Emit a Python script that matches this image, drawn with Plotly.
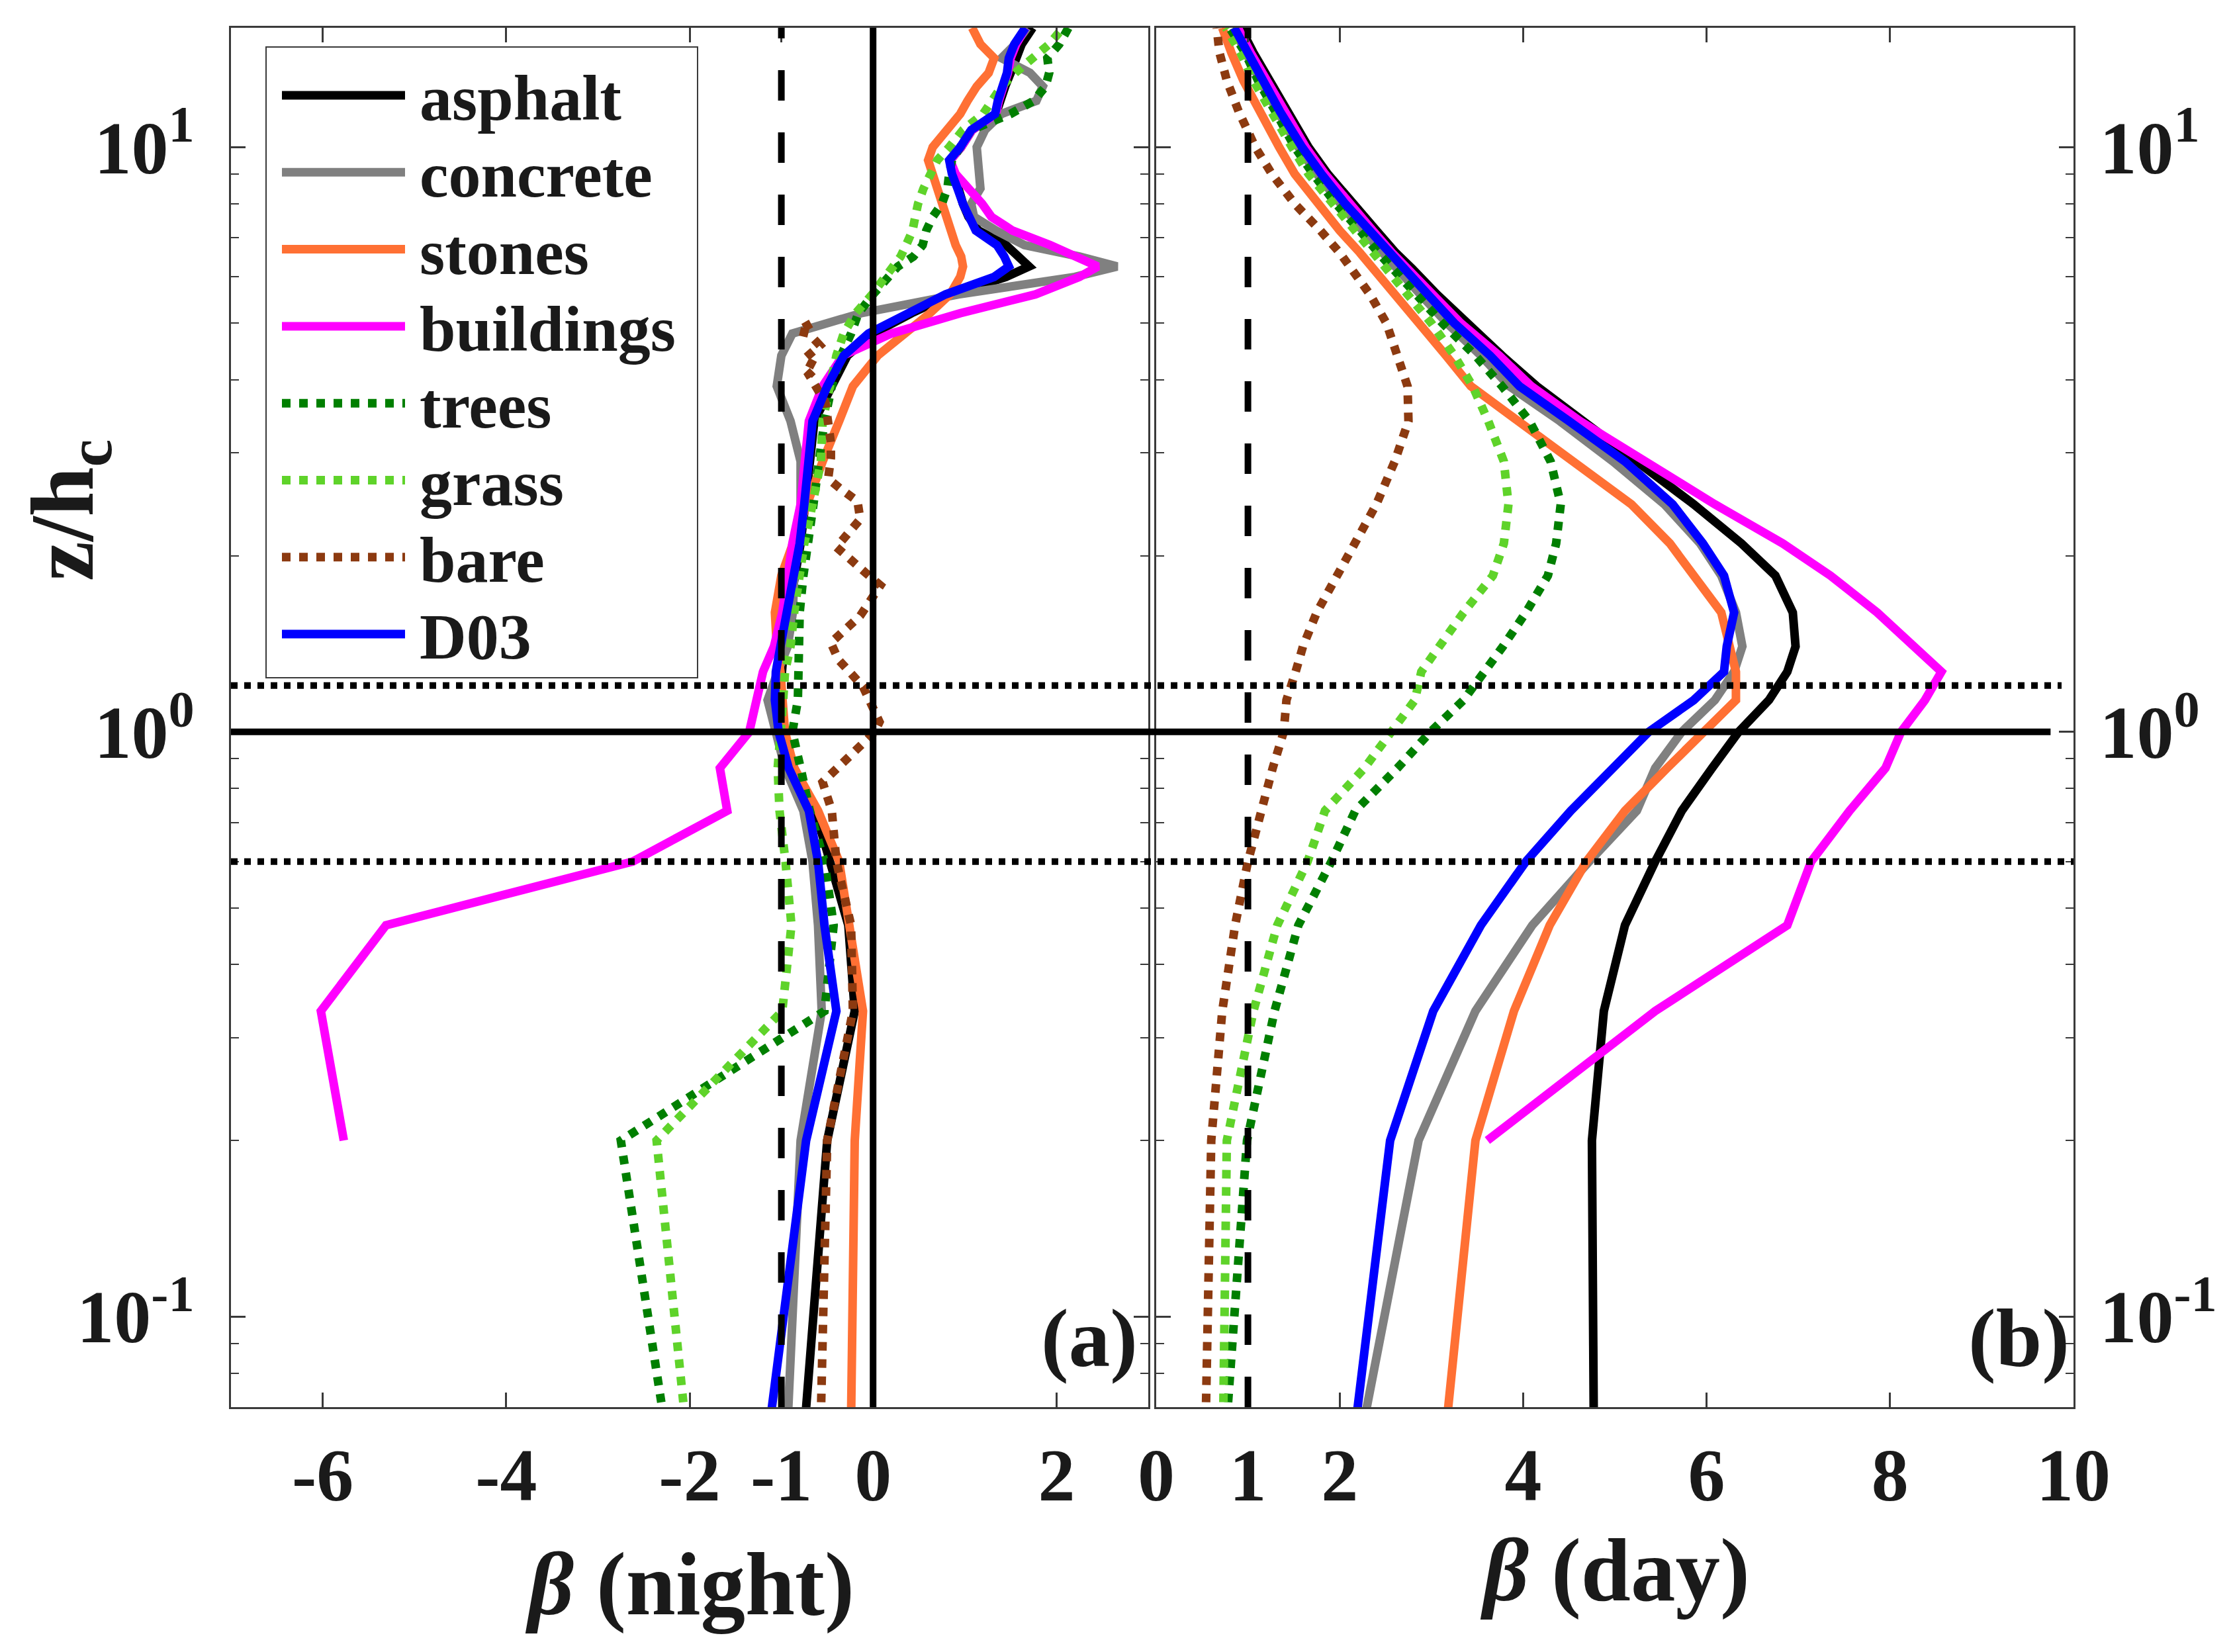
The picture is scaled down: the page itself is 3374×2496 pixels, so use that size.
import math
import plotly.graph_objects as go

Z_NIGHT = [0.0667, 0.2, 0.333, 0.467, 0.6, 0.733, 0.867, 1.0, 1.133, 1.267, 1.4, 1.6, 1.85, 2.1,
           2.45, 2.9, 3.4, 3.9, 4.4, 4.8, 5.2, 5.6, 6.0, 6.25, 6.5, 6.8, 7.2, 7.6, 8.0, 8.5, 9.0,
           9.5, 10.0, 10.7, 11.4, 12.0, 12.7, 13.4, 14.2, 15.0, 16.0]
Z_BARE_NIGHT = [0.0667, 0.2, 0.333, 0.467, 0.6, 0.733, 0.82, 1.0, 1.04, 1.195, 1.33, 1.42, 1.58,
                1.78, 1.87, 1.97, 2.07, 2.31, 2.48, 2.6, 2.71, 2.94, 3.12, 3.66, 4.08, 4.21, 4.33,
                4.58, 4.8, 4.85, 5.0]
Z_DAY = [0.0667, 0.2, 0.333, 0.467, 0.6, 0.733, 0.867, 1.0, 1.133, 1.267, 1.4, 1.6, 1.85, 2.1,
         2.45, 2.9, 3.4, 3.9, 4.4, 5.0, 5.6, 6.2, 6.6, 7.2, 8.0, 9.0, 10.0, 11.5, 13.0, 14.5, 16.0]

# panel (a): beta at night
ASPHALT_NIGHT = [-0.74, -0.50, -0.20, -0.27, -0.47, -0.63, -0.86, -0.99, -1.02, -1.00, -0.97, -0.92,
                 -0.85, -0.79, -0.74, -0.69, -0.64, -0.45, -0.28, 0.00, 0.42, 0.86, 1.45, 1.70, 1.58,
                 1.45, 1.15, 1.04, 0.98, 0.93, 0.87, 0.84, 0.96, 1.08, 1.34, 1.38, 1.44, 1.50, 1.55,
                 1.62, 1.74]
CONCRETE_NIGHT = [-0.93, -0.79, -0.56, -0.60, -0.66, -0.76, -0.96, -1.05, -1.15, -1.04, -0.93, -0.875,
                  -0.86, -0.82, -0.79, -0.79, -0.90, -1.05, -1.00, -0.88, -0.13, 0.93, 2.20, 2.66,
                  2.25, 1.65, 1.34, 1.10, 1.07, 1.17, 1.15, 1.14, 1.13, 1.22, 1.40, 1.78, 1.85, 1.71,
                  1.40, 1.55, 1.68]
STONES_NIGHT = [-0.24, -0.20, -0.11, -0.25, -0.37, -0.60, -0.86, -0.96, -0.98, -1.01, -1.05, -1.07,
                -1.00, -0.88, -0.73, -0.55, -0.37, -0.22, 0.05, 0.35, 0.62, 0.84, 0.95, 0.98, 0.96,
                0.90, 0.85, 0.78, 0.74, 0.69, 0.655, 0.60, 0.65, 0.80, 0.95, 1.03, 1.13, 1.26, 1.32,
                1.17, 1.08]
BUILDINGS_NIGHT = [None, -5.77, -6.02, -5.31, -2.62, -1.59, -1.67, -1.35, -1.28, -1.20, -1.08, -0.99,
                   -0.93, -0.88, -0.79, -0.74, -0.70, -0.55, -0.33, 0.20, 0.95, 1.77, 2.25, 2.45,
                   2.22, 1.93, 1.52, 1.29, 1.19, 1.05, 0.90, 0.84, 0.96, 1.08, 1.34, 1.37, 1.43, 1.47,
                   1.50, 1.56, 1.66]
TREES_NIGHT = [-2.28, -2.75, -0.53, -0.43, -0.53, -0.69, -0.79, -0.88, -0.82, -0.82, -0.82, -0.80,
               -0.76, -0.72, -0.65, -0.59, -0.53, -0.45, -0.35, -0.24, -0.16, 0.00, 0.18, 0.27, 0.44,
               0.54, 0.58, 0.65, 0.75, 0.81, 0.83, 0.86, 0.95, 1.07, 1.50, 1.75, 1.88, 1.92, 1.90,
               2.03, 2.13]
GRASS_NIGHT = [-2.05, -2.36, -0.99, -0.89, -0.955, -1.02, -1.04, -1.00, -0.98, -0.96, -0.90, -0.86,
               -0.80, -0.75, -0.66, -0.57, -0.55, -0.48, -0.40, -0.32, -0.19, -0.01, 0.13, 0.20,
               0.30, 0.36, 0.43, 0.46, 0.49, 0.55, 0.62, 0.70, 0.83, 0.98, 1.20, 1.30, 1.40, 1.55,
               1.75, 1.92, 2.07]
BARE_NIGHT = [-0.57, -0.50, -0.22, -0.24, -0.40, -0.45, -0.55, 0.02, 0.07, -0.11, -0.38, -0.46,
              -0.14, 0.08, -0.08, -0.23, -0.40, -0.14, -0.17, -0.35, -0.49, -0.46, -0.46, -0.52,
              -0.70, -0.61, -0.76, -0.58, -0.70, -0.82, -0.67]
D03_NIGHT = [-1.12, -0.73, -0.40, -0.53, -0.60, -0.70, -0.92, -1.03, -1.07, -1.06, -1.01, -0.94,
             -0.86, -0.80, -0.75, -0.70, -0.66, -0.50, -0.32, -0.05, 0.38, 0.79, 1.32, 1.48, 1.43,
             1.35, 1.12, 1.04, 0.98, 0.92, 0.86, 0.83, 0.95, 1.07, 1.33, 1.36, 1.42, 1.46, 1.48,
             1.54, 1.66]

# panel (b): beta during the day
ASPHALT_DAY = [4.77, 4.75, 4.88, 5.11, 5.44, 5.73, 6.06, 6.35, 6.68, 6.88, 6.97, 6.94, 6.75, 6.38,
               5.86, 5.24, 4.65, 4.15, 3.77, 3.38, 3.06, 2.79, 2.61, 2.40, 2.14, 1.87, 1.66, 1.43,
               1.24, 1.06, 0.92]
CONCRETE_DAY = [2.27, 2.86, 3.48, 4.10, 4.72, 5.24, 5.44, 5.73, 6.09, 6.30, 6.39, 6.32, 6.16, 5.93,
                5.54, 4.98, 4.40, 3.85, 3.54, 3.17, 2.88, 2.62, 2.45, 2.25, 2.01, 1.75, 1.55, 1.32,
                1.13, 0.98, 0.84]
STONES_DAY = [3.17, 3.48, 3.90, 4.29, 4.69, 5.11, 5.57, 5.96, 6.32, 6.32, 6.25, 6.16, 5.86, 5.60,
              5.18, 4.55, 3.97, 3.43, 3.16, 2.87, 2.61, 2.37, 2.22, 2.00, 1.76, 1.51, 1.34, 1.13,
              0.95, 0.82, 0.72]
BUILDINGS_DAY = [None, 3.61, 5.44, 6.88, 7.14, 7.56, 7.95, 8.12, 8.38, 8.56, 8.26, 7.86, 7.35, 6.83,
                 6.09, 5.32, 4.62, 4.09, 3.74, 3.32, 3.01, 2.75, 2.57, 2.36, 2.10, 1.84, 1.63, 1.40,
                 1.20, 1.03, 0.89]
TREES_DAY = [0.77, 0.99, 1.29, 1.55, 1.91, 2.17, 2.63, 2.99, 3.35, 3.58, 3.78, 4.03, 4.27, 4.36,
             4.41, 4.30, 4.07, 3.77, 3.48, 3.12, 2.83, 2.58, 2.42, 2.22, 1.96, 1.71, 1.51, 1.30,
             1.11, 0.97, 0.80]
GRASS_DAY = [0.73, 0.77, 1.06, 1.32, 1.65, 1.84, 2.27, 2.56, 2.82, 2.89, 3.09, 3.35, 3.67, 3.79,
             3.84, 3.79, 3.62, 3.45, 3.25, 3.00, 2.74, 2.51, 2.37, 2.19, 1.93, 1.66, 1.48, 1.26,
             1.06, 0.92, 0.76]
BARE_DAY = [0.54, 0.60, 0.72, 0.86, 1.00, 1.14, 1.27, 1.39, 1.42, 1.52, 1.60, 1.75, 1.98, 2.17,
            2.40, 2.60, 2.75, 2.74, 2.64, 2.51, 2.33, 2.14, 2.00, 1.79, 1.51, 1.26, 1.08, 0.90,
            0.77, 0.69, 0.66]
D03_DAY = [2.18, 2.55, 3.02, 3.54, 4.03, 4.52, 4.98, 5.37, 5.86, 6.19, 6.22, 6.30, 6.19, 5.96, 5.63,
           5.11, 4.50, 3.96, 3.64, 3.25, 2.96, 2.71, 2.53, 2.32, 2.06, 1.80, 1.59, 1.35, 1.16, 1.00,
           0.85]

SURFACES = ["asphalt", "concrete", "stones", "buildings", "trees", "grass", "bare", "D03"]
COLORS = ["#000000", "#808080", "#FF7034", "#FF00FF", "#007F00", "#5FD32A", "#8C3A10", "#0000FF"]
DASHES = ["solid", "solid", "solid", "solid", "dot", "dot", "dot", "solid"]

NIGHT = [(Z_NIGHT, ASPHALT_NIGHT), (Z_NIGHT, CONCRETE_NIGHT), (Z_NIGHT, STONES_NIGHT),
         (Z_NIGHT, BUILDINGS_NIGHT), (Z_NIGHT, TREES_NIGHT), (Z_NIGHT, GRASS_NIGHT),
         (Z_BARE_NIGHT, BARE_NIGHT), (Z_NIGHT, D03_NIGHT)]
DAY = [(Z_DAY, ASPHALT_DAY), (Z_DAY, CONCRETE_DAY), (Z_DAY, STONES_DAY), (Z_DAY, BUILDINGS_DAY),
       (Z_DAY, TREES_DAY), (Z_DAY, GRASS_DAY), (Z_DAY, BARE_DAY), (Z_DAY, D03_DAY)]

# reference lines
Z_CANOPY = 1.0
Z_DOTTED = [1.2, 0.6]

W, H = 3374, 2496
OFF = 8  # default page margin around the plot div


def px_x(p):
    return (p - OFF) / W


def px_y(p):
    return 1 - (p - OFF) / H


DOM_A = [px_x(349), px_x(1735)]
DOM_B = [px_x(1747), px_x(3133)]
DOM_Y = [px_y(2126), px_y(42)]
AXIS_COLOR = "#3a3a3a"
TEXT_COLOR = "#1a1a1a"
LW = 13

fig = go.Figure()
for i, name in enumerate(SURFACES):
    z, b = NIGHT[i]
    fig.add_trace(go.Scatter(x=b, y=z, mode="lines", name=name,
                             line=dict(color=COLORS[i], width=LW, dash=DASHES[i]),
                             xaxis="x", yaxis="y"))
for i, name in enumerate(SURFACES):
    z, b = DAY[i]
    fig.add_trace(go.Scatter(x=b, y=z, mode="lines", name=name,
                             line=dict(color=COLORS[i], width=LW, dash=DASHES[i]),
                             xaxis="x2", yaxis="y2"))

minor_z = [m * 10 ** e for e in (-2, -1, 0, 1) for m in range(2, 10)]
z_ticks = [0.1, 1, 10]
z_text = ["10<sup>-1</sup>", "10<sup>0</sup>", "10<sup>1</sup>"]

common_x = dict(ticks="inside", ticklen=22, tickwidth=3, tickcolor=AXIS_COLOR, mirror="ticks",
                showline=True, linecolor=AXIS_COLOR, linewidth=3, showgrid=False, zeroline=False,
                tickfont=dict(size=112), ticklabelstandoff=4, automargin=False)
common_y = dict(type="log", range=[math.log10(0.07), math.log10(16)], domain=DOM_Y,
                tickvals=z_ticks, ticktext=z_text, ticks="inside", ticklen=22, tickwidth=3,
                tickcolor=AXIS_COLOR, mirror="ticks", showline=True, linecolor=AXIS_COLOR,
                linewidth=3, showgrid=False, zeroline=False, tickfont=dict(size=112),
                automargin=False,
                minor=dict(ticks="inside", ticklen=12, tickwidth=2, tickcolor=AXIS_COLOR,
                           tickmode="array", tickvals=minor_z, showgrid=False))

fig.update_layout(
    width=W, height=H,
    margin=dict(l=0, r=0, t=0, b=0),
    paper_bgcolor="white", plot_bgcolor="white",
    showlegend=False,
    font=dict(family="Liberation Serif", size=100, color=TEXT_COLOR, weight="bold"),
    xaxis=dict(domain=DOM_A, range=[-7, 3], anchor="y",
               tickvals=[-6, -4, -2, -1, 0, 2], ticktext=["-6", "-4", "-2", "-1", "0", "2"],
               **common_x),
    xaxis2=dict(domain=DOM_B, range=[0, 10], anchor="y2",
                tickvals=[0, 1, 2, 4, 6, 8, 10], ticktext=["0", "1", "2", "4", "6", "8", "10"],
                **common_x),
    yaxis=dict(anchor="x", side="left", ticklabelstandoff=30, **common_y),
    yaxis2=dict(anchor="x2", side="right", ticklabelstandoff=14, **common_y),
)

span_b = DOM_B[1] - DOM_B[0]
shapes = [
    dict(type="line", xref="x", yref="y domain", x0=0, x1=0, y0=0, y1=1,
         line=dict(color="black", width=10)),
    dict(type="line", xref="x", yref="y domain", x0=-1, x1=-1, y0=0, y1=1,
         line=dict(color="black", width=10, dash="46px,48px")),
    dict(type="line", xref="x2", yref="y2 domain", x0=1, x1=1, y0=0, y1=1,
         line=dict(color="black", width=10, dash="46px,48px")),
    dict(type="line", xref="paper", yref="y", x0=DOM_A[0], x1=DOM_B[0] + 0.975 * span_b,
         y0=Z_CANOPY, y1=Z_CANOPY, line=dict(color="black", width=10)),
    dict(type="line", xref="paper", yref="y", x0=DOM_A[0], x1=DOM_B[0] + 0.987 * span_b,
         y0=Z_DOTTED[0], y1=Z_DOTTED[0], line=dict(color="black", width=10, dash="dot")),
    dict(type="line", xref="paper", yref="y", x0=DOM_A[0], x1=DOM_B[1],
         y0=Z_DOTTED[1], y1=Z_DOTTED[1], line=dict(color="black", width=10, dash="dot")),
]

# legend box drawn by hand so that its size matches the original
shapes.append(dict(type="rect", xref="paper", yref="paper", x0=px_x(402), x1=px_x(1054),
                   y0=px_y(1024), y1=px_y(71), fillcolor="white",
                   line=dict(color=AXIS_COLOR, width=2)))
for i, name in enumerate(SURFACES):
    yc = 144 + i * 116.3
    shapes.append(dict(type="line", xref="paper", yref="paper", x0=px_x(426), x1=px_x(612),
                       y0=px_y(yc), y1=px_y(yc),
                       line=dict(color=COLORS[i], width=LW, dash=DASHES[i])))
    fig.add_annotation(text=name, xref="paper", yref="paper", x=px_x(632), y=px_y(yc + 4),
                       xanchor="left", yanchor="middle", showarrow=False,
                       font=dict(size=98))
fig.update_layout(shapes=shapes)

title_font = dict(size=135)
fig.add_annotation(text="<i>β</i> (night)", xref="paper", yref="paper",
                   x=(DOM_A[0] + DOM_A[1]) / 2, y=px_y(2394), xanchor="center",
                   yanchor="middle", showarrow=False, font=title_font)
fig.add_annotation(text="<i>β</i> (day)", xref="paper", yref="paper",
                   x=(DOM_B[0] + DOM_B[1]) / 2, y=px_y(2372), xanchor="center",
                   yanchor="middle", showarrow=False, font=title_font)
fig.add_annotation(text="z/h<sub>c</sub>", xref="paper", yref="paper", x=px_x(104),
                   y=px_y(771), xanchor="center", yanchor="middle", textangle=-90,
                   showarrow=False, font=title_font)
fig.add_annotation(text="(a)", xref="paper", yref="paper", x=px_x(1646), y=px_y(2022),
                   xanchor="center", yanchor="middle", showarrow=False, font=dict(size=125))
fig.add_annotation(text="(b)", xref="paper", yref="paper", x=px_x(3050), y=px_y(2022),
                   xanchor="center", yanchor="middle", showarrow=False, font=dict(size=125))

fig.write_html("out.html")
